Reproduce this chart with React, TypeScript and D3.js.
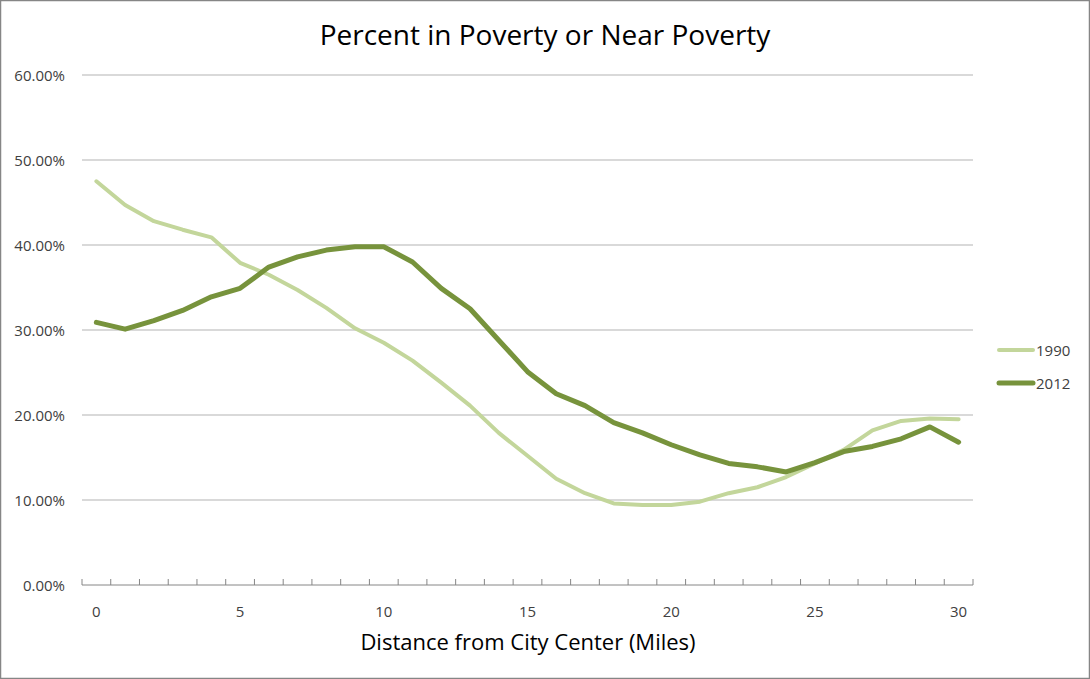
import React from "react";
import * as d3 from "d3";

const miles: number[] = d3.range(0, 31);
const series1990: number[] = [47.5, 44.7, 42.8, 41.8, 40.9, 37.9, 36.5, 34.7, 32.6, 30.2, 28.5, 26.4, 23.8, 21.1, 17.9, 15.2, 12.5, 10.8, 9.6, 9.4, 9.4, 9.8, 10.8, 11.5, 12.7, 14.3, 15.9, 18.2, 19.3, 19.6, 19.5];
const series2012: number[] = [30.9, 30.1, 31.1, 32.3, 33.9, 34.9, 37.4, 38.6, 39.4, 39.8, 39.8, 38.0, 34.9, 32.5, 28.8, 25.1, 22.5, 21.1, 19.1, 17.9, 16.5, 15.3, 14.3, 13.9, 13.3, 14.4, 15.7, 16.3, 17.2, 18.6, 16.8];
const yTicks: number[] = [0, 10, 20, 30, 40, 50, 60];
const xLabelTicks: number[] = [0, 5, 10, 15, 20, 25, 30];
const seriesNames: string[] = ["1990", "2012"];
const colors: string[] = ["#c3d69b", "#77933c"];

const W = 1090, H = 679;
const plotLeft = 82, plotRight = 973, plotTop = 75, plotBottom = 585;
const FONT = "'Open Sans', 'Noto Sans', sans-serif";

export default function App() {
  const band = d3.scaleBand<number>().domain(miles).range([plotLeft, plotRight]).paddingInner(0).paddingOuter(0);
  const x = (m: number) => (band(m) as number) + band.bandwidth() / 2;
  const y = d3.scaleLinear().domain([0, 60]).range([plotBottom, plotTop]);
  const line = d3.line<number>().x((_, i) => x(miles[i])).y((d) => y(d));
  const data = [series1990, series2012];
  const widths = [4, 5];
  const tickXs = miles.map((m) => band(m) as number).concat([plotRight]);

  return (
    <svg width={W} height={H} style={{ position: "absolute", left: 0, top: 0, background: "#fff" }}>
      <rect x={0.5} y={0.5} width={W - 1} height={H - 1} fill="#fff" stroke="#868686" strokeWidth={1.5} />
      <text x={545} y={45} textAnchor="middle" fontFamily={FONT} fontSize={28} fill="#000">Percent in Poverty or Near Poverty</text>
      {yTicks.map((t) => (
        <g key={t}>
          {t > 0 && <line x1={plotLeft} x2={plotRight} y1={y(t)} y2={y(t)} stroke="#b3b3b3" strokeWidth={1} />}
          <text x={65} y={y(t) + 6} textAnchor="end" fontFamily={FONT} fontSize={15} fill="#404040">{t.toFixed(2) + "%"}</text>
        </g>
      ))}
      <line x1={plotLeft} x2={plotRight} y1={plotBottom} y2={plotBottom} stroke="#868686" strokeWidth={1} />
      {tickXs.map((tx, i) => (
        <line key={i} x1={tx} x2={tx} y1={plotBottom - 6} y2={plotBottom} stroke="#868686" strokeWidth={1} />
      ))}
      {xLabelTicks.map((m) => (
        <text key={m} x={x(m)} y={617} textAnchor="middle" fontFamily={FONT} fontSize={15} fill="#404040">{m}</text>
      ))}
      <text x={528} y={650} textAnchor="middle" fontFamily={FONT} fontSize={22} fill="#000">Distance from City Center (Miles)</text>
      {data.map((s, k) => (
        <path key={k} d={line(s) || ""} fill="none" stroke={colors[k]} strokeWidth={widths[k]} strokeLinejoin="round" strokeLinecap="round" />
      ))}
      {seriesNames.map((n, k) => (
        <g key={n}>
          <line x1={999} x2={1033} y1={350 + k * 33} y2={350 + k * 33} stroke={colors[k]} strokeWidth={widths[k]} strokeLinecap="round" />
          <text x={1036} y={356 + k * 33} fontFamily={FONT} fontSize={15} fill="#404040">{n}</text>
        </g>
      ))}
    </svg>
  );
}
